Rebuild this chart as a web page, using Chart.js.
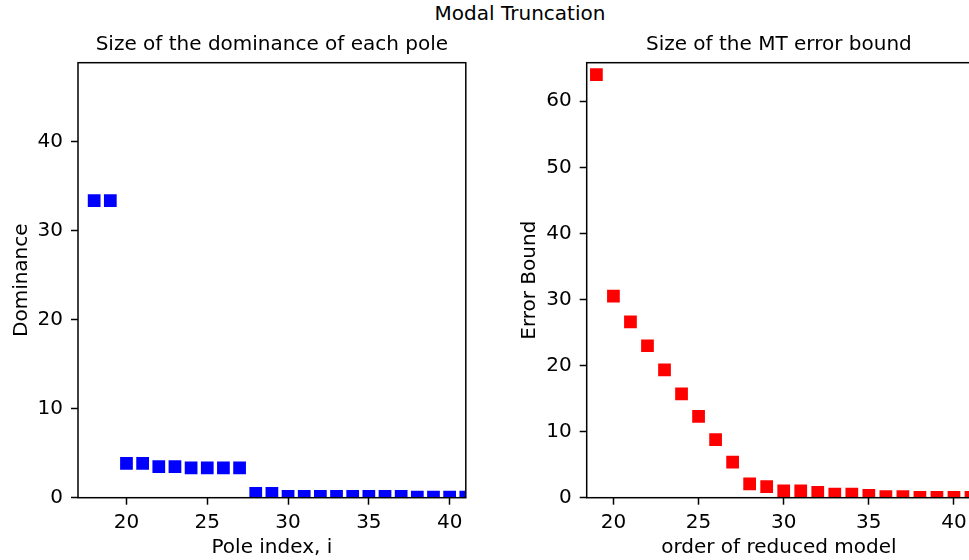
<!DOCTYPE html>
<html>
<head>
<meta charset="utf-8">
<script src="https://cdn.jsdelivr.net/npm/chart.js@4/dist/chart.umd.min.js"></script>
<style>
  body { margin: 0; width: 969px; height: 560px; overflow: hidden; background: #fff; position: relative; }
  canvas { position: absolute; top: 0; }
  #suptitle { position: absolute; top: 4px; left: 0; width: 1040px; text-align: center;
    font: 20px/19px "DejaVu Sans"; color: #000; }
</style>
</head>
<body>
<div id="suptitle">Modal Truncation</div>
<canvas id="dominance" width="480" height="560" style="left:0"></canvas>
<canvas id="errbound" width="490" height="560" style="left:490px"></canvas>
<script>
// pole index and dominance of each pole
let poles = [18, 19, 20, 21, 22, 23, 24, 25, 26, 27, 28, 29, 30, 31, 32, 33, 34, 35, 36, 37, 38, 39, 40, 41];
let dominance = [33.4, 33.4, 3.85, 3.85, 3.5, 3.5, 3.35, 3.35, 3.35, 3.35, 0.5, 0.5,
                 0.15, 0.15, 0.15, 0.15, 0.15, 0.15, 0.15, 0.15, 0.07, 0.07, 0.07, 0.07];

// order of reduced model and its MT error bound
let orders = [19, 20, 21, 22, 23, 24, 25, 26, 27, 28, 29, 30, 31, 32, 33, 34, 35, 36, 37, 38, 39, 40, 41];
let errorBound = [64.05, 30.5, 26.6, 23.0, 19.35, 15.7, 12.3, 8.8, 5.4, 2.1, 1.67, 1.05, 1.05,
                  0.8, 0.55, 0.55, 0.35, 0.15, 0.15, 0.05, 0.05, 0.05, 0.05];

Chart.defaults.color = "#000";
Chart.defaults.font.family = "DejaVu Sans";
Chart.defaults.font.size = 20;

//draws the full box round the plot area like matplotlib spines, and the subplot title over it
const frame = {
    id: "frame",
    afterDatasetsDraw(chart, args, opts){
        const {ctx, chartArea: a} = chart;
        ctx.save();
        ctx.strokeStyle = "#000";
        ctx.lineWidth = 1.5;
        ctx.strokeRect(a.left, a.top, a.right - a.left, a.bottom - a.top);
        ctx.fillStyle = "#000";
        ctx.font = "20px 'DejaVu Sans'";
        ctx.textAlign = "center";
        ctx.textBaseline = "alphabetic";
        ctx.fillText(opts.text, (a.left + a.right) / 2, a.top - 12.5);
        ctx.restore();
    }
};

function toPoints(xs, ys){
    return xs.map((x, i) => ({x: x, y: ys[i]}));
}

function axis(min, max, step, title, size, titlePad, horizontal){
    return {
        type: "linear",
        min: min,
        max: max,
        grid: { drawOnChartArea: false, drawTicks: true, tickLength: 7, tickWidth: 1.5, tickColor: "#000" },
        border: { display: false },
        ticks: { stepSize: step, includeBounds: false, padding: horizontal ? 6 : 8, maxRotation: 0 },
        title: { display: true, text: title, padding: titlePad },
        afterFit(scale){
            if(horizontal) scale.height = size;
            else scale.width = size;
        }
    };
}

function makeChart(id, xs, ys, color, opts){
    return new Chart(document.getElementById(id), {
        type: "scatter",
        data: {
            datasets: [{
                data: toPoints(xs, ys),
                backgroundColor: color,
                borderColor: color,
                pointStyle: "rect",
                pointRadius: 9,
                pointBorderWidth: 0,
                clip: 0
            }]
        },
        options: {
            responsive: false,
            animation: false,
            devicePixelRatio: 1,
            layout: { padding: { left: 0, top: 62.7, bottom: 0, right: opts.padRight } },
            plugins: {
                legend: { display: false },
                tooltip: { enabled: false },
                title: { display: false },
                frame: { text: opts.title }
            },
            scales: {
                x: axis(opts.xmin, opts.xmax, 5, opts.xlabel, 62.3, {top: 0, bottom: 0}, true),
                y: axis(0, opts.ymax, 10, opts.ylabel, opts.yWidth, {top: opts.yTitlePad, bottom: opts.yTitlePad}, false)
            }
        },
        plugins: [frame]
    });
}

makeChart("dominance", poles, dominance, "#0000ff", {
    title: "Size of the dominance of each pole",
    xlabel: "Pole index, i", ylabel: "Dominance",
    xmin: 17, xmax: 41, ymax: 48.9,
    yWidth: 78, yTitlePad: 9.6, padRight: 14.2
});

makeChart("errbound", orders, errorBound, "#ff0000", {
    title: "Size of the MT error bound",
    xlabel: "order of reduced model", ylabel: "Error Bound",
    xmin: 18.43, xmax: 41, ymax: 65.84,
    yWidth: 96.7, yTitlePad: 27.6, padRight: 5.6
});
</script>
</body>
</html>
